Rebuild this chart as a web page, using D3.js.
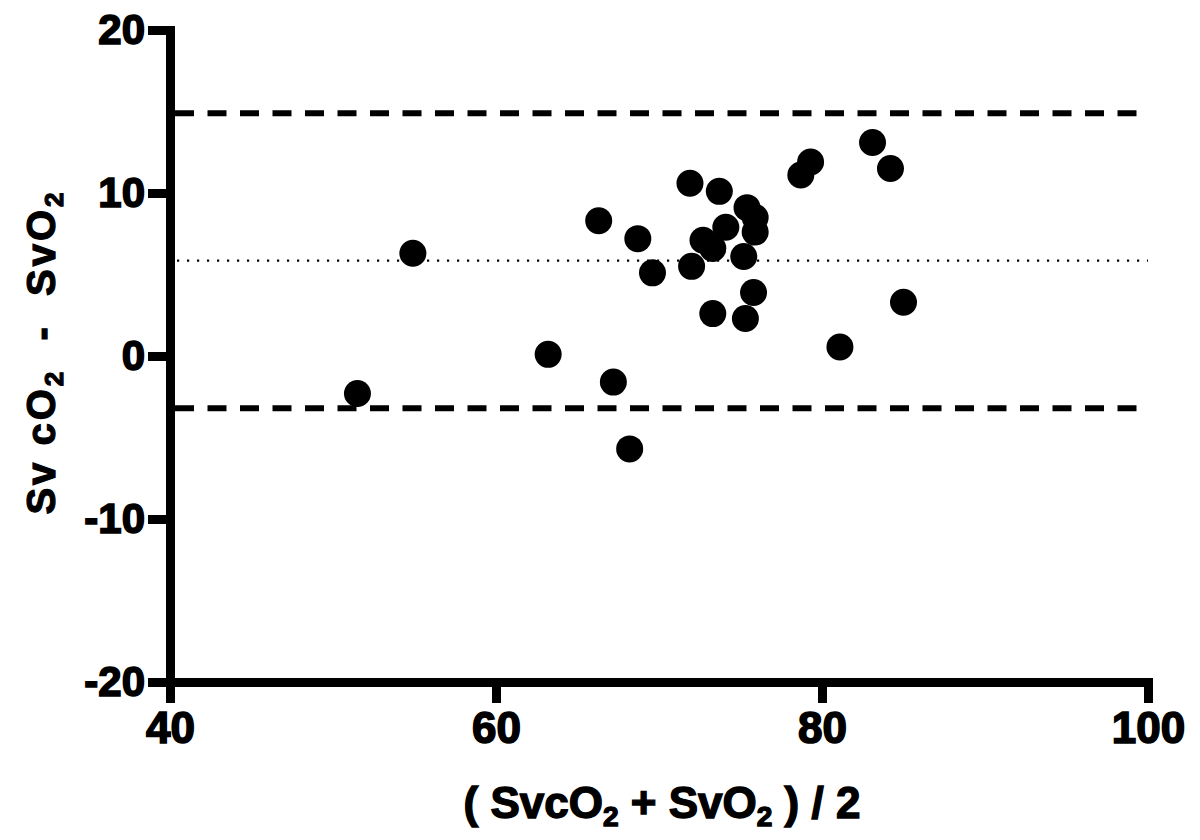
<!DOCTYPE html>
<html>
<head>
<meta charset="utf-8">
<script src="https://cdn.jsdelivr.net/npm/d3@7"></script>
<style>
  html, body { margin: 0; padding: 0; background: #fff; }
  svg { display: block; }
  text { font-family: "Liberation Sans", Arial, sans-serif; font-weight: bold; fill: #000; }
</style>
</head>
<body>
<svg id="chart" width="1200" height="840"></svg>
<script>
// Data
const meanValues = [51.5, 54.9, 63.2, 66.3, 67.2, 68.2, 68.7, 69.6, 71.9, 72.0, 72.7, 73.3, 73.3, 73.7, 74.1, 75.2, 75.3, 75.4, 75.8, 75.9, 75.9, 78.7, 79.3, 81.1, 83.1, 84.2, 85.0];
const diffValues = [-2.3, 6.3, 0.1, 8.3, -1.6, -5.7, 7.2, 5.1, 10.6, 5.5, 7.1, 6.6, 2.6, 10.1, 7.9, 6.1, 2.3, 9.1, 3.9, 8.5, 7.6, 11.1, 11.9, 0.55, 13.1, 11.5, 3.3];
const biasLine = [5.85];
const limitLines = [14.9, -3.2];
const xTicks = [40, 60, 80, 100];
const yTicks = [-20, -10, 0, 10, 20];
const xDomain = [40, 100];
const yDomain = [-20, 20];

const svg = d3.select("#chart");
const margin = { left: 170, right: 52, top: 30, bottom: 158 };
const W = 1200, H = 840;

const x = d3.scaleLinear().domain(xDomain).range([margin.left, W - margin.right]);
const y = d3.scaleLinear().domain(yDomain).range([H - margin.bottom, margin.top]);

// limit lines (dashed)
svg.append("g").selectAll("line").data(limitLines).join("line")
  .attr("x1", x(xDomain[0]) + 5).attr("x2", x(xDomain[1]))
  .attr("y1", d => y(d)).attr("y2", d => y(d))
  .attr("stroke", "#000").attr("stroke-width", 6)
  .attr("stroke-dasharray", "19,13.5");

// bias line (dotted)
svg.append("g").selectAll("line").data(biasLine).join("line")
  .attr("x1", x(xDomain[0]) + 7).attr("x2", x(xDomain[1]))
  .attr("y1", d => y(d)).attr("y2", d => y(d))
  .attr("stroke", "#000").attr("stroke-width", 2.2)
  .attr("stroke-dasharray", "2.2,7.8");

// points
svg.append("g").selectAll("circle").data(meanValues.map((m, i) => [m, diffValues[i]])).join("circle")
  .attr("cx", d => x(d[0])).attr("cy", d => y(d[1])).attr("r", 13.5)
  .attr("fill", "#000");

// axes
const fmt = d => String(d);
const yAxis = svg.append("g").attr("transform", `translate(${margin.left},0)`)
  .call(d3.axisLeft(y).tickValues(yTicks).tickFormat(fmt).tickSize(22).tickSizeOuter(0).tickPadding(3));
const xAxis = svg.append("g").attr("transform", `translate(0,${H - margin.bottom})`)
  .call(d3.axisBottom(x).tickValues(xTicks).tickFormat(fmt).tickSize(21).tickSizeOuter(0).tickPadding(9));

[yAxis, xAxis].forEach(g => {
  g.select(".domain").attr("stroke", "#000").attr("stroke-width", 9).attr("stroke-linecap", "square");
  g.selectAll(".tick line").attr("stroke", "#000").attr("stroke-width", 9);
  g.selectAll(".tick text").attr("font-size", 42).attr("font-family", "Liberation Sans, Arial, sans-serif")
    .attr("font-weight", "bold").attr("fill", "#000")
    .attr("stroke", "#000").attr("stroke-width", 1.6);
});
xAxis.selectAll(".tick text").attr("font-size", 44);

// Y title
const yt = svg.append("text")
  .attr("transform", `translate(55,352) rotate(-90)`)
  .attr("text-anchor", "middle").attr("font-size", 40)
  .attr("letter-spacing", 3)
  .attr("stroke", "#000").attr("stroke-width", 1.2)
  .style("white-space", "pre");
yt.append("tspan").text("Sv cO");
yt.append("tspan").attr("font-size", 26).attr("dy", 8).text("2");
yt.append("tspan").attr("dy", -8).text("  -  SvO");
yt.append("tspan").attr("font-size", 26).attr("dy", 8).text("2");

// X title
const xt = svg.append("text")
  .attr("x", 662).attr("y", 818)
  .attr("text-anchor", "middle").attr("font-size", 44)
  .attr("stroke", "#000").attr("stroke-width", 1.4)
  .style("white-space", "pre");
xt.append("tspan").text("( SvcO");
xt.append("tspan").attr("font-size", 28).attr("dy", 8).text("2");
xt.append("tspan").attr("dy", -8).text(" + SvO");
xt.append("tspan").attr("font-size", 28).attr("dy", 8).text("2");
xt.append("tspan").attr("dy", -8).text(" ) / 2");
</script>
</body>
</html>
